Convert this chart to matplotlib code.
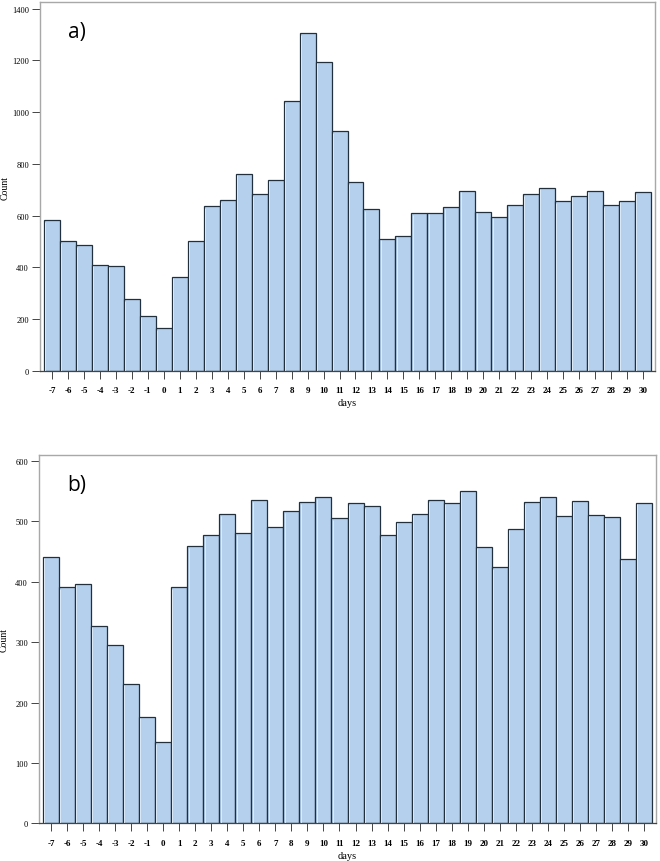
import numpy as np
import matplotlib
matplotlib.use("Agg")
from matplotlib import pyplot as plt

# days relative to the event
days = list(range(-7, 31))

# panel a) counts
counts_a = [583, 501, 485, 410, 406, 277, 214, 165, 365, 504, 636, 659, 763, 683, 740,
            1042, 1305, 1196, 927, 730, 625, 511, 522, 610, 611, 633, 696, 616, 597,
            641, 683, 708, 656, 678, 697, 641, 657, 691]

# panel b) counts
counts_b = [441, 391, 397, 327, 296, 231, 176, 134, 391, 459, 477, 512, 480, 535, 491,
            517, 532, 540, 505, 530, 525, 477, 499, 513, 535, 531, 551, 458, 424,
            488, 532, 541, 509, 534, 511, 508, 438, 531]

yticks_a = [0, 200, 400, 600, 800, 1000, 1200, 1400]
yticks_b = [0, 100, 200, 300, 400, 500, 600]

bar_face = "#b4d0ed"
bar_edge = "#22303d"


def draw_panel(ax, counts, yticks, ymax, label):
    ax.bar(days, counts, width=1.0, color=bar_face, edgecolor=bar_edge, linewidth=0.9, zorder=2)
    # light inner highlight on the left side of each bar (SPSS look)
    d = np.array(days)
    c = np.array(counts)
    ax.vlines(d - 0.42, 0, c - ymax * 0.004, color="#e6f0fa", linewidth=0.6, zorder=3)

    ax.set_xlim(-7.75, 30.75)
    ax.set_ylim(0, ymax)
    ax.set_xticks(days)
    ax.set_xticklabels([str(x) for x in days], fontfamily="Liberation Serif",
                       fontweight="bold", fontsize=6.5)
    ax.set_yticks(yticks)
    ax.set_yticklabels([str(t) for t in yticks], fontfamily="Liberation Serif", fontsize=6)
    ax.tick_params(axis="x", direction="out", length=6, width=0.7, color="#444444", pad=5)
    ax.tick_params(axis="y", direction="out", length=6, width=0.7, color="#444444", pad=2)

    ax.set_xlabel("days", fontfamily="Liberation Serif", fontsize=7.5, labelpad=3)
    ax.set_ylabel("Count", fontfamily="Liberation Serif", fontsize=7)
    ax.yaxis.set_label_coords(-0.05, 0.5)

    for side in ["top", "right", "left"]:
        ax.spines[side].set_color("#a8a8a8")
        ax.spines[side].set_linewidth(1.0)
    ax.spines["bottom"].set_color("#444444")
    ax.spines["bottom"].set_linewidth(0.9)

    ax.text(0.045, 0.92, label, transform=ax.transAxes, fontfamily="Open Sans",
            fontsize=15, ha="left", va="center")


fig = plt.figure(figsize=(6.6, 8.62), dpi=100)

ax1 = fig.add_axes([40 / 660, 1 - 372 / 862, 615 / 660, 369 / 862])
draw_panel(ax1, counts_a, yticks_a, 1426, "a)")

ax2 = fig.add_axes([39 / 660, 1 - 824.3 / 862, 617 / 660, 368.6 / 862])
draw_panel(ax2, counts_b, yticks_b, 610.4, "b)")

fig.savefig("out.png", dpi=100)
